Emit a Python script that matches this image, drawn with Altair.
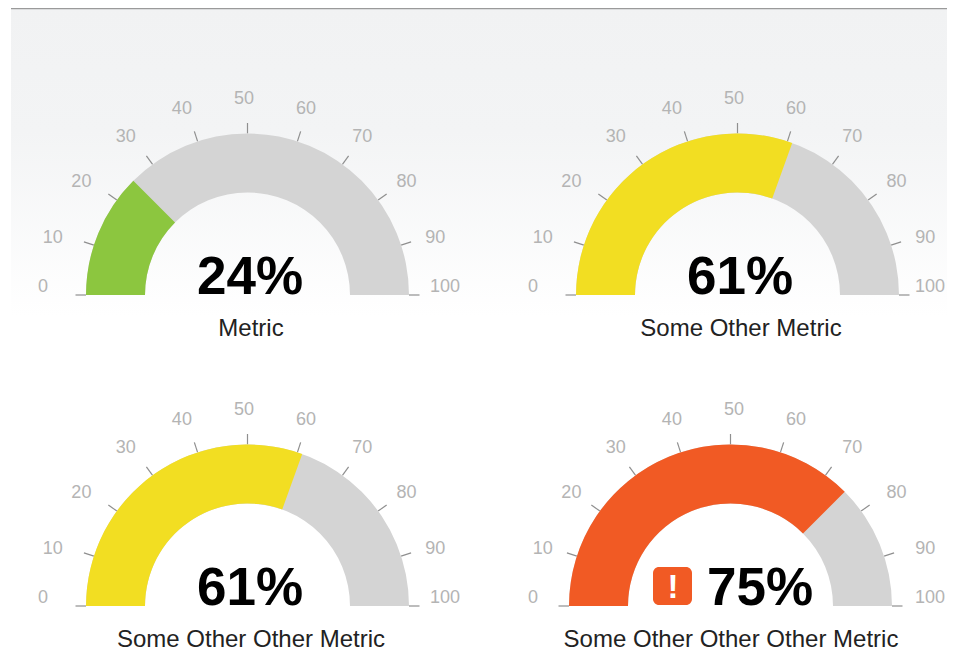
import math
import altair as alt
import pandas as pd

names = ["Metric", "Some Other Metric", "Some Other Other Metric", "Some Other Other Other Metric"]
values = [24, 61, 61, 75]
arc_ends = [25, 61, 61, 75]
colors = ["#8cc63f", "#f2de22", "#f2de22", "#f15a24"]
tick_values = [0, 10, 20, 30, 40, 50, 60, 70, 80, 90, 100]

# layout, in page pixels
W, H = 939, 645
cxs = [247.5, 737.5, 247.5, 730.5]
label_cxs = [247.5, 737.5, 247.5, 737.5]
cys = [295, 295, 606, 606]
big_x = [250, 740, 250, 760]
name_x = [251, 741, 251, 731]
OUTER, INNER = 161.5, 102.5

gauges = pd.DataFrame({
    "name": names, "value": values, "arc_end": arc_ends, "color": colors, "cx": cxs,
    "lcx": label_cxs, "cy": cys, "big_x": big_x, "name_x": name_x, "zero": 0, "full": 100,
})
gauges["pct"] = gauges["value"].astype(str) + "%"
gauges["big_y"] = gauges["cy"] - 1
gauges["name_y"] = gauges["cy"] + 41

rows = []
for g in gauges.itertuples():
    for t in tick_values:
        a = math.pi * t / 100
        c, s = math.cos(a), math.sin(a)
        rows.append({
            "label": str(t),
            "x1": g.cx - OUTER * c, "y1": g.cy - OUTER * s,
            "x2": g.cx - 172 * c, "y2": g.cy - 172 * s,
            "lx": min(g.lcx - 201 * c - 3.5, 930),
            "ly": g.cy - max(201 * s - 5, 8),
        })
ticks = pd.DataFrame(rows)

xs = alt.Scale(domain=[8, 8 + W], range=[0, W], nice=False, zero=False)
ys = alt.Scale(domain=[8, 8 + H], range=[0, H], nice=False, zero=False)
ts = alt.Scale(domain=[0, 100], range=[-math.pi / 2, math.pi / 2])
X = lambda f: alt.X(f, type="quantitative", scale=xs, axis=None)
Y = lambda f: alt.Y(f, type="quantitative", scale=ys, axis=None)
FONT = "Liberation Sans"

bg = pd.DataFrame({"a": [11], "b": [947], "c": [9], "d": [316]})
background = alt.Chart(bg).mark_rect(
    color=alt.LinearGradient(
        gradient="linear", x1=0, x2=0, y1=0, y2=1,
        stops=[alt.GradientStop(color="#f1f2f3", offset=0),
               alt.GradientStop(color="#f3f4f5", offset=0.4),
               alt.GradientStop(color="#ffffff", offset=1)])
).encode(x=X("a"), x2="b", y=Y("c"), y2="d")
topline = alt.Chart(bg).mark_rule(color="#9a9a9a", strokeWidth=1.5).encode(
    x=X("a"), x2="b", y=alt.value(0.5))

tick_rules = alt.Chart(ticks).mark_rule(color="#8f8f8f", strokeWidth=1.2).encode(
    x=X("x1"), x2="x2", y=Y("y1"), y2="y2")
tick_text = alt.Chart(ticks).mark_text(font=FONT, fontSize=18, color="#b4b4b4").encode(
    x=X("lx"), y=Y("ly"), text="label:N")

grey = alt.Chart(gauges).mark_arc(radius=OUTER, radius2=INNER, color="#d4d4d4").encode(
    x=X("cx"), y=Y("cy"),
    theta=alt.Theta("zero:Q", scale=ts, stack=None), theta2="full")
fill = alt.Chart(gauges).mark_arc(radius=OUTER, radius2=INNER).encode(
    x=X("cx"), y=Y("cy"),
    theta=alt.Theta("zero:Q", scale=ts, stack=None), theta2="arc_end",
    color=alt.Color("color:N", scale=None))

big = alt.Chart(gauges).mark_text(
    font=FONT, fontSize=53, fontWeight="bold", color="#000000", baseline="alphabetic"
).encode(x=X("big_x"), y=Y("big_y"), text="pct:N")
label = alt.Chart(gauges).mark_text(
    font=FONT, fontSize=24, color="#222222", baseline="alphabetic"
).encode(x=X("name_x"), y=Y("name_y"), text="name:N")

icon_df = pd.DataFrame({"a": [653], "b": [692], "c": [567], "d": [605], "mx": [673], "my": [598], "t": ["!"]})
icon = alt.Chart(icon_df).mark_rect(color="#f15a24", cornerRadius=6).encode(
    x=X("a"), x2="b", y=Y("c"), y2="d")
icon_mark = alt.Chart(icon_df).mark_text(
    font=FONT, fontSize=33, fontWeight="bold", color="#ffffff", baseline="alphabetic"
).encode(x=X("mx"), y=Y("my"), text="t:N")

chart = alt.layer(
    background, topline, tick_rules, tick_text, grey, fill, big, label, icon, icon_mark
).properties(
    width=W, height=H, padding=0, background="#ffffff",
    autosize=alt.AutoSizeParams(type="none")
).configure_view(stroke=None)

chart.save("out.html", embed_options={"renderer": "svg", "actions": False})
